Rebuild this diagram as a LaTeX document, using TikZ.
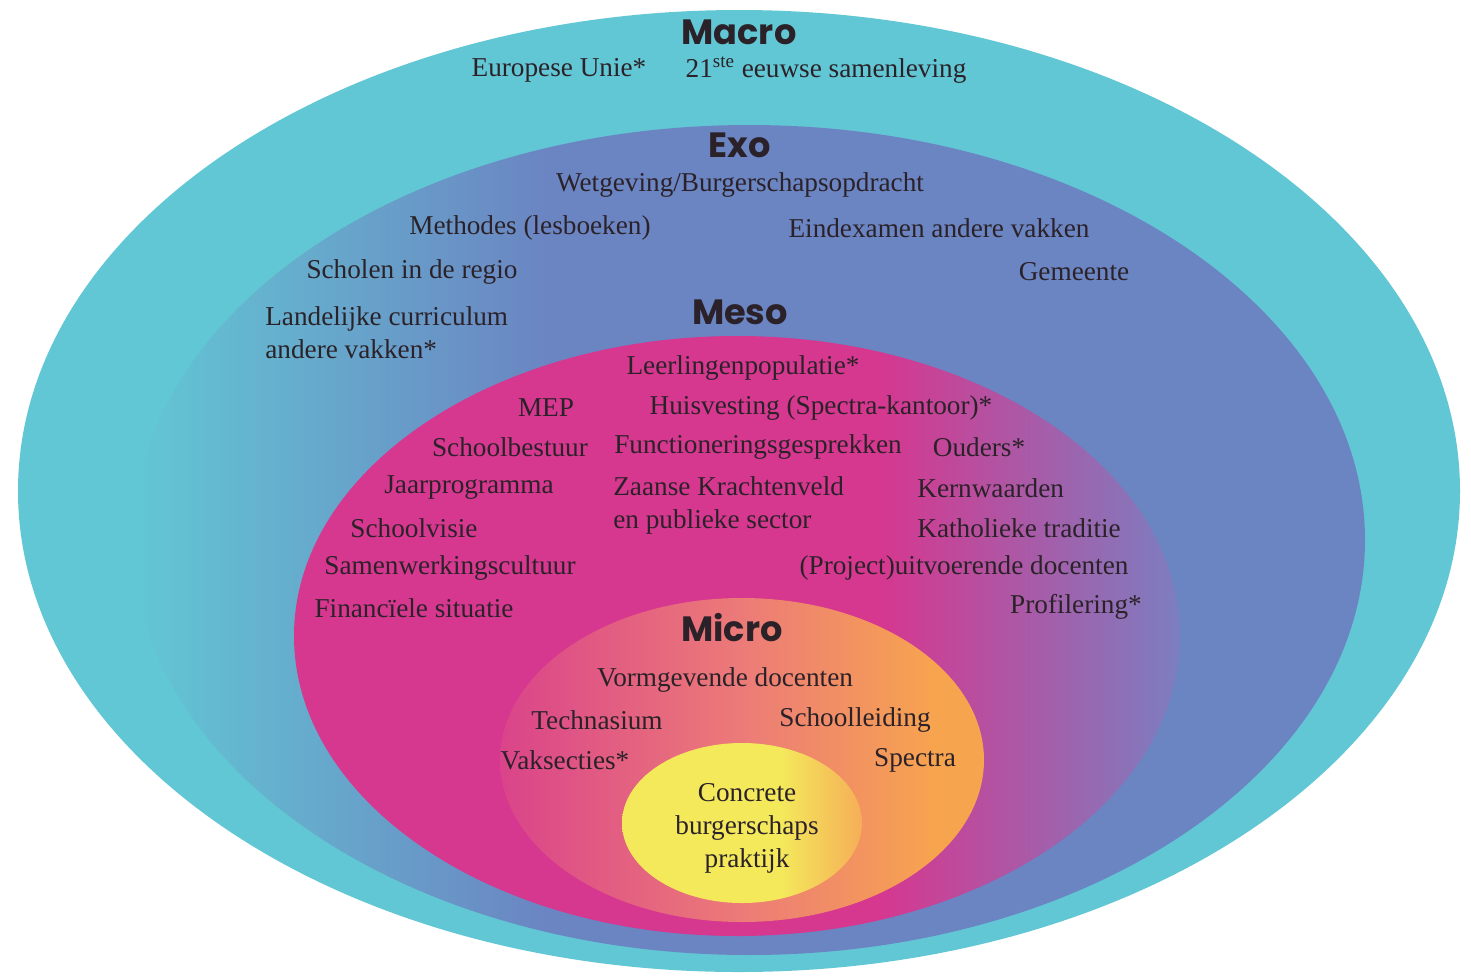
\documentclass[tikz,border=0pt]{standalone}
\usepackage{fontspec}
\usepackage{xcolor}
\setmainfont{Liberation Serif}
\newfontfamily\headfont{Poppins}
\definecolor{macrocol}{HTML}{62C7D4}
\definecolor{exocol}{HTML}{6B84C2}
\definecolor{mesocol}{HTML}{D6378F}
\definecolor{mesoedge}{HTML}{7C7EC0}
\definecolor{micropink}{HTML}{DA448A}
\definecolor{micromid}{HTML}{EC7B78}
\definecolor{microorange}{HTML}{F7A44F}
\definecolor{coreyellow}{HTML}{F4E95B}
\definecolor{coreedge}{HTML}{F5AE58}
\definecolor{ink}{HTML}{2B2229}
\pgfdeclarehorizontalshading{exoshade}{100bp}{color(0bp)=(macrocol); color(25bp)=(macrocol); color(42bp)=(exocol); color(100bp)=(exocol)}
\pgfdeclarehorizontalshading{mesoshade}{100bp}{color(0bp)=(mesocol); color(58bp)=(mesocol); color(75bp)=(mesoedge); color(100bp)=(mesoedge)}
\pgfdeclarehorizontalshading{microshade}{100bp}{color(0bp)=(micropink); color(25bp)=(micropink); color(50bp)=(micromid); color(70bp)=(microorange); color(100bp)=(microorange)}
\pgfdeclarehorizontalshading{coreshade}{100bp}{color(0bp)=(coreyellow); color(58bp)=(coreyellow); color(75bp)=(coreedge); color(100bp)=(coreedge)}

\begin{document}
\begin{tikzpicture}[x=0.02cm,y=-0.02cm,
  head/.style={font=\headfont\bfseries\fontsize{20}{24}\selectfont,text=ink,inner sep=0pt},
  lbl/.style={font=\fontsize{15.5}{18.8}\selectfont,text=ink,inner sep=0pt}]
\useasboundingbox (0,0) rectangle (1471,975);
% rings, outside in
\fill[macrocol] (739,491) ellipse [x radius=721, y radius=481];
\shade[shading=exoshade] (749,540) ellipse [x radius=616, y radius=415];
\shade[shading=mesoshade] (737,636) ellipse [x radius=443, y radius=300];
\shade[shading=microshade] (742,760) ellipse [x radius=242, y radius=162];
\shade[shading=coreshade] (742,823) ellipse [x radius=120, y radius=80];

\node[head] (macro) at (739,32) {Macro};
\node[lbl] (unie) at (559,70) {Europese Unie*};
\node[lbl] (eeuw) at (826,70) {21\textsuperscript{ste} eeuwse samenleving};

\node[head] (exo) at (740,145) {Exo};
\node[lbl] (wet) at (740,185) {Wetgeving/Burgerschapsopdracht};
\node[lbl] (methodes) at (530,228) {Methodes (lesboeken)};
\node[lbl] (eindex) at (939,228) {Eindexamen andere vakken};
\node[lbl] (scholen) at (412,272) {Scholen in de regio};
\node[lbl] (gemeente) at (1074,272) {Gemeente};
\node[lbl,anchor=west,align=left] (landelijk) at (265,333) {Landelijke curriculum\\andere vakken*};

\node[head] (meso) at (740,312) {Meso};
\node[lbl] (populatie) at (743,368) {Leerlingenpopulatie*};
\node[lbl] (mep) at (546,408) {MEP};
\node[lbl] (huis) at (821,408) {Huisvesting (Spectra-kantoor)*};
\node[lbl] (bestuur) at (510,447) {Schoolbestuur};
\node[lbl] (gesprek) at (758,447) {Functioneringsgesprekken};
\node[lbl] (ouders) at (979,447) {Ouders*};
\node[lbl] (jaar) at (469,488) {Jaarprogramma};
\node[lbl,anchor=west,align=left] (zaanse) at (613,505) {Zaanse Krachtenveld\\en publieke sector};
\node[lbl,anchor=west] (kern) at (917,488) {Kernwaarden};
\node[lbl] (visie) at (414,528) {Schoolvisie};
\node[lbl,anchor=west] (katholiek) at (917,528) {Katholieke traditie};
\node[lbl] (samenwerk) at (450,568) {Samenwerkingscultuur};
\node[lbl] (project) at (964,568) {(Project)uitvoerende docenten};
\node[lbl] (financ) at (414,608) {Financïele situatie};
\node[lbl] (profiel) at (1076,607) {Profilering*};

\node[head] (micro) at (732,628) {Micro};
\node[lbl] (vorm) at (725,680) {Vormgevende docenten};
\node[lbl] (techn) at (597,720) {Technasium};
\node[lbl] (leiding) at (855,720) {Schoolleiding};
\node[lbl] (vaksec) at (565,760) {Vaksecties*};
\node[lbl] (spectra) at (915,760) {Spectra};
\node[lbl,align=center] (praktijk) at (747,828) {Concrete\\burgerschaps\\praktijk};
\end{tikzpicture}
\end{document}
